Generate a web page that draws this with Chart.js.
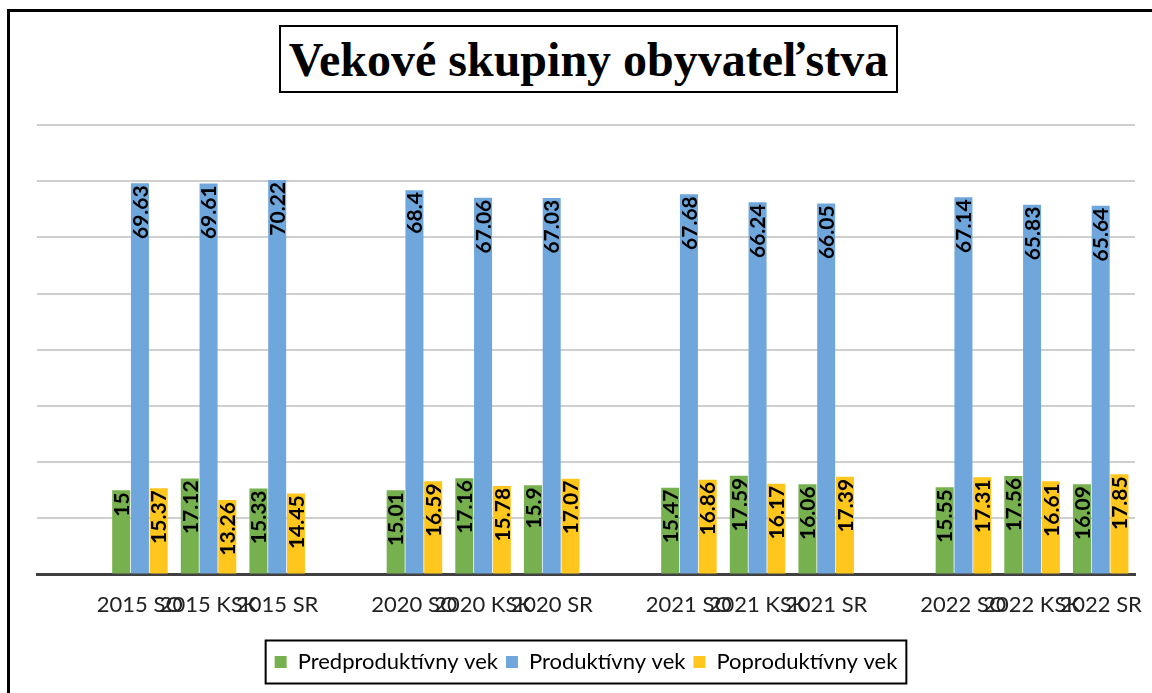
<!DOCTYPE html>
<html>
<head>
<meta charset="utf-8">
<script src="https://cdn.jsdelivr.net/npm/chart.js"></script>
<style>
  body { margin: 0; background: #fff; }
  .wrap { position: relative; width: 1152px; height: 693px; overflow: hidden; }
  .frame { position: absolute; left: 7px; top: 9px; width: 1200px; height: 800px; border-left: 3px solid #000; border-top: 3px solid #000; }
  .title { position: absolute; left: 279px; top: 25px; width: 615px; height: 64px; border: 2px solid #000;
           font: bold 48px "Liberation Serif"; text-align: center; line-height: 66px; color: #000; }
  canvas { position: absolute; left: 0; top: 0; }
</style>
</head>
<body>
<div class="wrap">
  <div class="frame"></div>
  <div class="title">Vekové skupiny obyvateľstva</div>
  <canvas id="myChart" width="1152" height="693"></canvas>
</div>
<script>
// empty labels are the gaps between the year groups
const categories = ['', '2015 SO', '2015 KSK', '2015 SR', '', '2020 SO', '2020 KSK', '2020 SR',
                    '', '2021 SO', '2021 KSK', '2021 SR', '', '2022 SO', '2022 KSK', '2022 SR'];
const predproduktivny = [null, 15, 17.12, 15.33, null, 15.01, 17.16, 15.9, null, 15.47, 17.59, 16.06, null, 15.55, 17.56, 16.09];
const produktivny = [null, 69.63, 69.61, 70.22, null, 68.4, 67.06, 67.03, null, 67.68, 66.24, 66.05, null, 67.14, 65.83, 65.64];
const poproduktivny = [null, 15.37, 13.26, 14.45, null, 16.59, 15.78, 17.07, null, 16.86, 16.17, 17.39, null, 17.31, 16.61, 17.85];
const seriesNames = ['Predproduktívny vek', 'Produktívny vek', 'Poproduktívny vek'];
const seriesColors = ['#76b04f', '#6fa6dc', '#ffc61e'];

// value labels written upward inside the top of each bar
const barLabels = {
  id: 'barLabels',
  afterDraw(chart) {
    const ctx = chart.ctx;
    ctx.save();
    ctx.font = 'bold 21px Lato';
    ctx.fillStyle = '#000';
    ctx.textAlign = 'right';
    ctx.textBaseline = 'middle';
    chart.data.datasets.forEach((ds, i) => {
      chart.getDatasetMeta(i).data.forEach((bar, j) => {
        if (ds.data[j] == null) return;
        ctx.save();
        ctx.translate(bar.x + 1, bar.y + 2);
        ctx.rotate(-Math.PI / 2);
        ctx.fillText(String(ds.data[j]), 0, 0);
        ctx.restore();
      });
    });
    ctx.restore();
  }
};

// black frame round the legend items
const legendFrame = {
  id: 'legendFrame',
  afterDraw(chart) {
    const boxes = chart.legend.legendHitBoxes;
    if (!boxes || !boxes.length) return;
    const left = Math.min(...boxes.map(b => b.left));
    const right = Math.max(...boxes.map(b => b.left + b.width));
    const mid = boxes[0].top + boxes[0].height / 2;
    const ctx = chart.ctx;
    ctx.save();
    ctx.strokeStyle = '#000';
    ctx.lineWidth = 2;
    ctx.strokeRect(left - 9, mid - 21.5, right - left + 18, 43);
    ctx.restore();
  }
};

const ctx = document.getElementById('myChart');

const myChart = new Chart(ctx, {
  type: 'bar',
  data: {
    labels: categories,
    datasets: [
      { label: seriesNames[0], data: predproduktivny, backgroundColor: seriesColors[0] },
      { label: seriesNames[1], data: produktivny, backgroundColor: seriesColors[1] },
      { label: seriesNames[2], data: poproduktivny, backgroundColor: seriesColors[2] }
    ]
  },
  options: {
    responsive: false,
    animation: false,
    datasets: { bar: { categoryPercentage: 0.82, barPercentage: 0.96 } },
    layout: { padding: { left: 37, right: 17, top: 125, bottom: 10 } },
    plugins: {
      tooltip: { enabled: false },
      legend: {
        position: 'bottom',
        labels: {
          font: { family: 'Lato', size: 22 },
          color: '#000',
          boxWidth: 12,
          boxHeight: 12,
          padding: 8
        }
      }
    },
    scales: {
      x: {
        grid: { display: false, drawTicks: false },
        border: { display: true, color: '#404040', width: 3 },
        ticks: {
          autoSkip: false, maxRotation: 0, minRotation: 0,
          padding: 17, color: '#222',
          font: { family: 'Lato', size: 22 }
        },
        afterFit: scale => {
          scale.height += 8;
          // let the last label run past the plot edge, as in the original
          scale.paddingLeft = 0;
          scale.paddingRight = 0;
        }
      },
      y: {
        min: 0, max: 80,
        z: 1,
        ticks: { display: false, stepSize: 10 },
        border: { display: false },
        grid: { color: '#cfcfcf', lineWidth: 2, drawTicks: false }
      }
    }
  },
  plugins: [barLabels, legendFrame]
});
</script>
</body>
</html>
